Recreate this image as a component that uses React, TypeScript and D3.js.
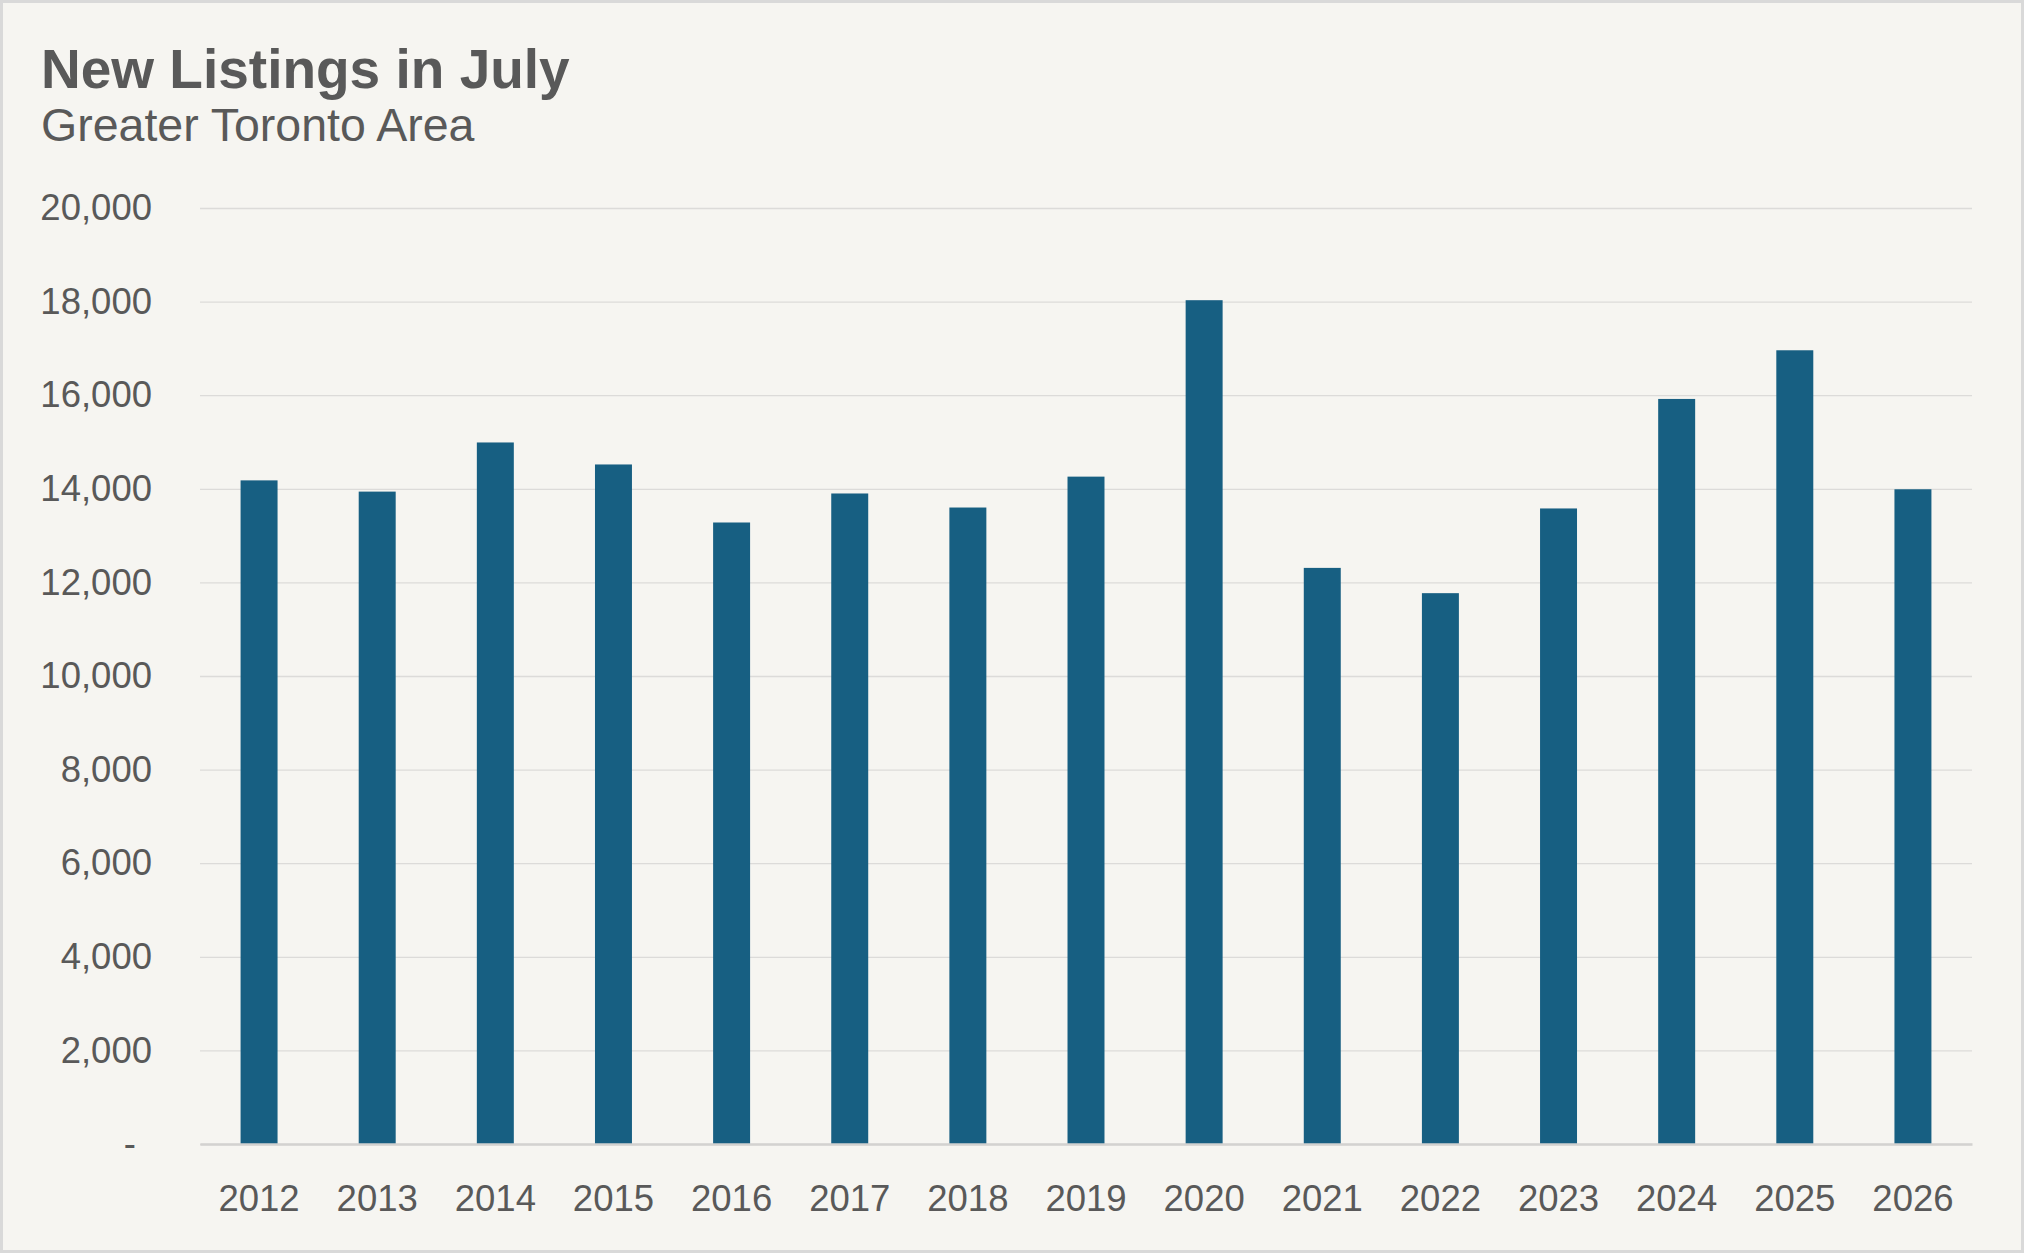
import React, { useEffect, useRef } from 'react';
import * as d3 from 'd3';

const years: string[] = ['2012', '2013', '2014', '2015', '2016', '2017', '2018', '2019', '2020', '2021', '2022', '2023', '2024', '2025', '2026'];
const newListings: number[] = [14180, 13940, 14990, 14520, 13280, 13900, 13600, 14260, 18030, 12310, 11770, 13580, 15920, 16960, 13990];
const yTicks: number[] = [0, 2000, 4000, 6000, 8000, 10000, 12000, 14000, 16000, 18000, 20000];

const title = 'New Listings in July';
const subtitle = 'Greater Toronto Area';

const W = 2024;
const H = 1253;
const FONT = "'Liberation Sans', Arial, sans-serif";
const TEXT = '#595959';

const App: React.FC = () => {
    const chartRef = useRef<SVGSVGElement>(null);

    useEffect(() => {
        const svg = d3.select(chartRef.current);
        svg.selectAll("*").remove(); // start clean

        const margin = { top: 208, right: 52, bottom: 109, left: 200 };
        const width = W - margin.left - margin.right;
        const height = H - margin.top - margin.bottom;

        // background + frame
        svg.append("rect")
            .attr("x", 1.5).attr("y", 1.5)
            .attr("width", W - 3).attr("height", H - 3)
            .attr("fill", "#f6f5f1")
            .attr("stroke", "#d9d9d9")
            .attr("stroke-width", 3);

        svg.append("text")
            .attr("x", 41).attr("y", 88)
            .attr("font-family", FONT).attr("font-size", 55).attr("font-weight", "bold")
            .attr("fill", TEXT)
            .text(title);

        svg.append("text")
            .attr("x", 41).attr("y", 141)
            .attr("font-family", FONT).attr("font-size", 46.5)
            .attr("fill", TEXT)
            .text(subtitle);

        const x = d3.scaleBand<string>()
            .domain(years)
            .range([0, width])
            .paddingInner(0.687)
            .paddingOuter(0.3435);

        const y = d3.scaleLinear().domain([0, 20000]).range([height, 0]);

        const g = svg.append("g")
            .attr("transform", `translate(${margin.left},${margin.top})`);

        // y axis with gridlines
        const yAxis = g.append("g")
            .call(d3.axisLeft(y)
                .tickValues(yTicks)
                .tickSize(-width)
                .tickPadding(48)
                .tickFormat(d => (+d === 0 ? '-' : d3.format(',')(+d))));
        yAxis.select(".domain").remove();
        yAxis.selectAll(".tick line")
            .attr("stroke", "#dcdbd9")
            .attr("stroke-width", 1.3);
        yAxis.selectAll(".tick text")
            .attr("font-family", FONT)
            .attr("font-size", 36.5)
            .attr("fill", TEXT);
        yAxis.selectAll<SVGTextElement, number>(".tick text")
            .filter(d => d === 0)
            .attr("dx", -16);

        // bars
        g.selectAll(".bar")
            .data(newListings)
            .enter().append("rect")
            .attr("class", "bar")
            .attr("x", (_, i) => x(years[i]) as number)
            .attr("width", x.bandwidth())
            .attr("y", d => y(d))
            .attr("height", d => height - y(d))
            .attr("fill", "#175f82");

        // x axis
        const xAxis = g.append("g")
            .attr("transform", `translate(0,${height})`)
            .call(d3.axisBottom(x).tickSize(0).tickPadding(41));
        xAxis.select(".domain")
            .attr("stroke", "#d3d2d0")
            .attr("stroke-width", 2.5);
        xAxis.selectAll(".tick text")
            .attr("font-family", FONT)
            .attr("font-size", 36.5)
            .attr("fill", TEXT);
    }, []);

    return (
        <svg ref={chartRef} width={W} height={H}
            style={{ position: 'absolute', left: 0, top: 0, display: 'block' }}></svg>
    );
};

export default App;
